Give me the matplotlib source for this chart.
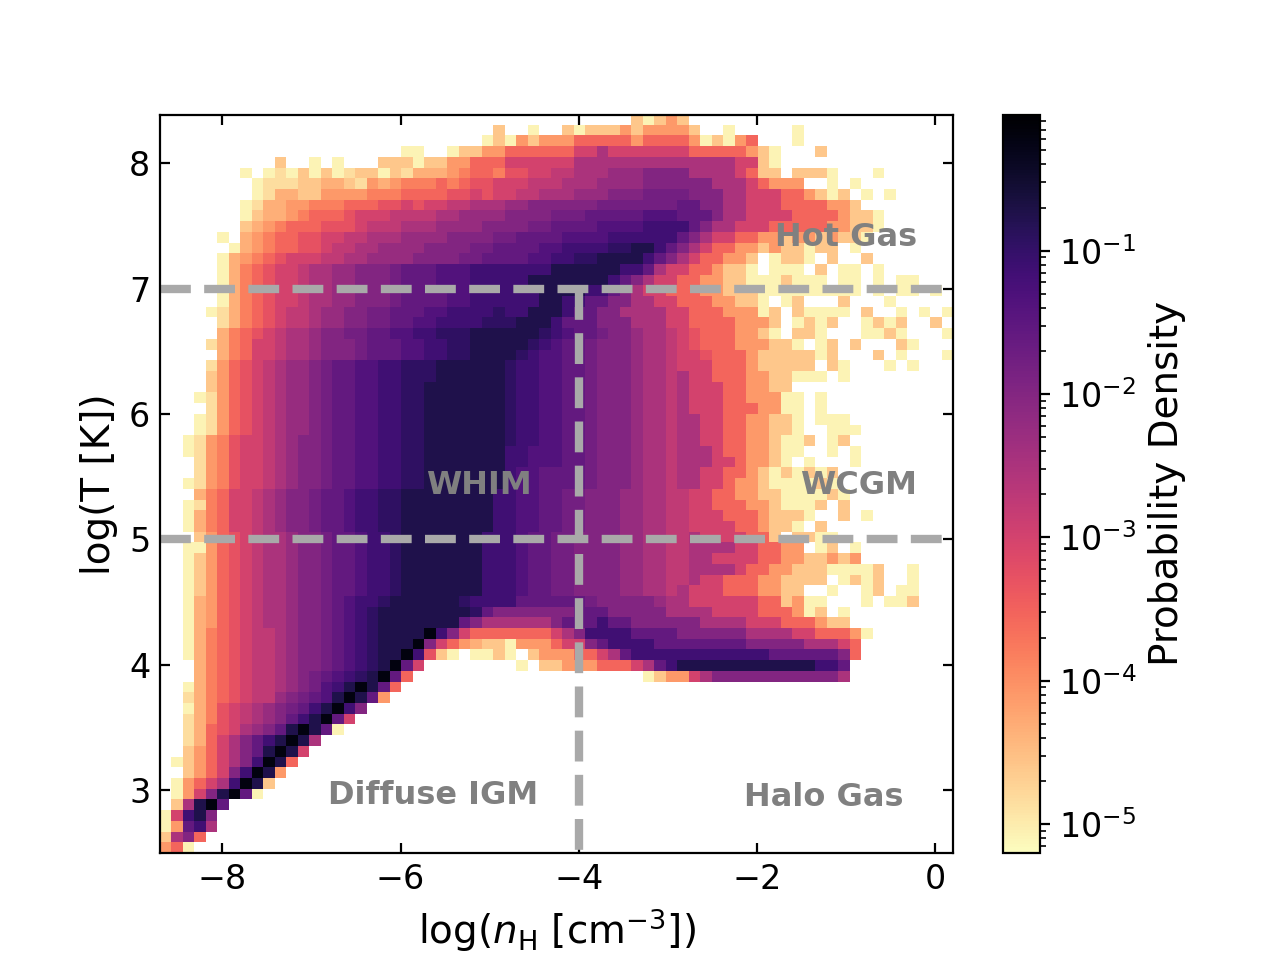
import matplotlib
matplotlib.use('Agg')
import matplotlib.pyplot as plt
from matplotlib.colors import LogNorm
import numpy as np

# axis extent of the 2D histogram (69 x 69 bins)
x_range = [-8.7, 0.2]
y_range = [2.5, 8.385]
n_bins = 69
vmin, vmax = 6.3e-6, 0.885

# density level of each character, log10(probability density); '.' = empty bin
# digits are whole steps, b..j the half steps in between, 'a' the black ridge
LEVEL_LOG10 = {'0': -5.1, 'b': -4.85, '1': -4.6, 'c': -4.35, '2': -4.1,
               'd': -3.83, '3': -3.55, 'e': -3.28, '4': -3.0, 'f': -2.75,
               '5': -2.5, 'g': -2.25, '6': -2.0, 'h': -1.8, '7': -1.6,
               'i': -1.38, '8': -1.15, 'j': -0.95, '9': -0.75, 'a': -0.2}

# bins, top row = highest temperature (columns in groups of 10)
density_rows = [
    ".........." ".........." ".........." ".........." ".10121...." ".........." ".........",
    ".........." ".........." ".........1" "..0..10111" "2122221..0" ".....0...." ".........",
    ".........." ".........." "........01" "0212223333" "3233332010" "23...0...." ".........",
    ".........." ".........." ".00..01122" "3333334454" "4444443333" "3210...1.." ".........",
    ".........." "1..0.0...1" "1101122333" "4444445555" "5555555555" "4410......" ".........",
    ".......0.0" "b01010b110" "1bccc2d33d" "ee44ff555g" "gg66665555" "4311.1110." "..0......",
    "........0b" "bb11cc1b2c" "2ddd3d3ee4" "44fff555gg" "gg66666655" "543222..0." "0........",
    "........0b" "cc112222dd" "d3333ee4e4" "4ff555ggg6" "66hhhh6665" "5444332101" ".0.0.....",
    ".......0bc" "c22ddd333e" "e4e44ff555" "gg666666hh" "hhhhh77665" "5444333322" "1........",
    ".......01c" "c2d333e444" "ffff55gggg" "6666hhh777" "77iii77765" "5444433332" "110......",
    ".......1c2" "d333eee4ff" "f555gggg66" "66hh7777ii" "ii88887655" "4443333322" "110......",
    ".....0.c2d" "33ee44ff55" "5gggg6666h" "h7777iiii8" "8888876544" "3322122121" "10.......",
    "......0c2d" "33ee4ff55g" "ggg6666hh7" "777ii8888j" "j998765433" "221211011." "0........",
    ".....0c2d3" "e444ff55gg" "gg6666hh77" "77ii88jj99" "9987654332" "21.0110.1." ".1.......",
    ".....0cd3e" "44f55gg666" "h777iii888" "8888999999" "8875443321" "10.000.1.0" "0.0......",
    ".....0cd3e" "44f55gg666" "h777iii888" "8899999998" "7654433221" "10001000.0" "0.0.00...",
    ".....0cd3e" "44f55gg666" "h7777ii888" "8889999887" "6544333221" "1100000000" "0.0.00.0.",
    ".....0cd3e" "44f55gg666" "h7777ii888" "8889988776" "6554433322" "110.01...1" "...0.....",
    "....0bcd3e" "4ff5gg66hh" "777ii8888j" "8899987766" "5555443332" "2201.10000" ".1..0.0.0",
    ".....bcd3e" "4ff5gg66hh" "77ii8888jj" "j999877766" "6555443333" "2221.0101." ".0101..1.",
    ".....cd3e4" "f55g66hh77" "ii88jjj999" "999j8i77h6" "6g55f4e333" "2210.110.." ".0010...0",
    "....bcd344" "f55g666h77" "7ii88jj999" "99j8i77h66" "6g55f4e333" "222110.01." "1...10...",
    ".....cd344" "f55g666h77" "7ii88jj999" "9j8ii77h66" "6g55f44e33" "321111101." "..1.0...0",
    "....b23e4f" "5gg6h77ii8" "8jjj999999" "j88ii77h66" "6g55f44433" "3211111.10" "...0.0...",
    "....123e4f" "5gg6h77ii8" "8jjj999999" "j88ii77h66" "6g55f54433" "32211000.0" ".........",
    "....123e4f" "5gg6h77ii8" "8jj9999999" "j88ii77h66" "6g55f54443" "32211....." ".........",
    "...0b23e4f" "5gg6h77ii8" "8jj9999999" "j88ii77h66" "6g55f54443" "322200.0.." ".........",
    "....b23e4f" "5gg6h77ii8" "8jj9999999" "j88ii77h66" "6g55f54443" "332200.0.." ".........",
    "...0b23e4f" "5gg6h77ii8" "8jj9999999" "j88ii77h66" "6g55f55443" "322110.000" ".........",
    "...0b23e4f" "5gg6h77ii8" "8jj9999999" "j88ii77h66" "6g55f55443" "322110..00" "0........",
    "..0b2de44f" "5g66h77ii8" "8jj9999999" "j88ii77h66" "6g55f55443" "3221001.01" ".........",
    "..0b2de44f" "5g66h77ii8" "8jj9999999" "88iii77h66" "6g55f55543" "322100..0." "0........",
    "...b2de44f" "5g66h77ii8" "8jj9999999" "88iii77h66" "6g55f55544" "32210.0..." "0........",
    "...b2de44f" "5g66h77ii8" "8jj9999999" "8ii7777h66" "6g55f55443" "321010101." ".........",
    "..0b2de44f" "5g66h77ii8" "8jj9999999" "8ii7777h66" "6g55f55443" "221000010." ".........",
    "...cd344f5" "g66h77i88j" "j999999998" "8ii77hh666" "gg55ff4433" "2211000010" ".........",
    "..0bd344f5" "g66h77i88j" "j999999998" "8ii77hh666" "gg55ff4433" "32210001.1" ".........",
    "..0cd344f5" "g66h77i88j" "j999999998" "8ii77hh666" "gg55ff4443" "3321110..1" ".0.......",
    "..0cd344f5" "g66h77i88j" "j999999998" "8ii77hh666" "gg55ff4444" "332110.1.." ".........",
    "...123e4f5" "5g66h77i88" "j999999988" "8i77hh6666" "gg55ff5444" "4331.1100." ".........",
    "..0023e4f5" "5g66h77i88" "j999999988" "8i77hh6666" "gg55ff5555" "443322.01." "0........",
    "..0123e4f5" "5g66h77i88" "j999999988" "8i77hh6666" "gg55ff5544" "4433221121" "2........",
    "..0123e4f5" "5g66h77i88" "j999999988" "8i77hh6666" "gg55ff5555" "4332211100" "001..0...",
    "..0123e4f5" "5g66h77i88" "j999999988" "8i77hh6666" "gg55ff5443" "33221111.0" "101..0...",
    "..0123e4f5" "5g66h77i88" "j999999988" "8i77hh6666" "gg55f54443" "332211..0." ".01.00...",
    "..0c23e4f5" "5g66h7i88j" "999999j888" "8777777h66" "666g554444" "44331200.." ".0.001...",
    "..0c23e4f5" "5g66h7i8j9" "9999999j76" "6666667776" "6666555544" "44333201.0" ".........",
    "..0c23e4f5" "5g66h7i8j9" "9999997655" "5555677787" "7666666555" "5444333211" ".........",
    "..0cd3e4ff" "5g66h7i8j9" "999a864333" "3333456888" "8777766666" "6555544333" "20.......",
    "..0cd3e4ff" "5g66h7i8j9" "99a6432c11" "0222344678" "8887777777" "7666665554" "3........",
    "..0cd3e4ff" "5g66h7i8j9" "9a8e10.001" "0.12223345" "7888888888" "8887777776" "3........",
    "...cd3e4ff" "5g66h7i8j9" "a74......." ".0.1122233" "3457899999" "9999999887" ".........",
    "...cd3e4ff" "5g6h7i8j9a" "73........" ".........." "..01224566" "6666666665" ".........",
    "..0cd3e4ff" "5g6hi89a97" "3.........",
    "..bcd3e4ff" "g6h7i9a972",
    "..0cde4f5g" "6h789a86..",
    "..bcde4f5g" "6789a74...",
    "..bc3e45g6" "79a970....",
    "..bc345678" "9a95......",
    "..12345679" "a94.......",
    ".01234568a" "93........",
    "..123468a9" "2.........",
    ".023458a91",
    ".02469a70.",
    ".159a7....",
    "04896.....",
    "02785.....",
    "1563......",
    "230.......",
]

# phase boundaries and region names
t_cuts = [5, 7]
n_cut = -4
region_names = ['WHIM', 'Hot Gas', 'WCGM', 'Diffuse IGM', 'Halo Gas']
region_x = [-5.12, -1.0, -0.86, -5.63, -1.25]
region_y = [5.43, 7.41, 5.43, 2.96, 2.945]

grid = np.full((n_bins, n_bins), np.nan)
for r, row in enumerate(density_rows):
    for c, ch in enumerate(row.ljust(n_bins, '.')[:n_bins]):
        if ch != '.':
            grid[r, c] = 10 ** LEVEL_LOG10[ch]

fig = plt.figure(figsize=(6.4, 4.8), dpi=200)
ax = fig.add_axes([0.125, 0.1115, 0.6195, 0.7688])
cax = fig.add_axes([0.7836, 0.1115, 0.0289, 0.7688])

im = ax.imshow(grid, extent=[x_range[0], x_range[1], y_range[0], y_range[1]],
               origin='upper', aspect='auto', interpolation='nearest',
               cmap='magma_r', norm=LogNorm(vmin=vmin, vmax=vmax))

for t in t_cuts:
    ax.axhline(t, color='darkgray', ls='--', lw=3)
ax.plot([n_cut, n_cut], [t_cuts[1], y_range[0]], color='darkgray', ls='--', lw=3)

for name, x, y in zip(region_names, region_x, region_y):
    ax.text(x, y, name, color='gray', fontsize=11.5, fontweight='bold',
            ha='center', va='center')

ax.set_xlim(x_range)
ax.set_ylim(y_range)
ax.set_xticks([-8, -6, -4, -2, 0])
ax.set_yticks([3, 4, 5, 6, 7, 8])
ax.tick_params(direction='in', top=True, right=True, labelsize=12)
ax.set_xlabel(r'log($n_{\rm H}$ [cm$^{-3}$])', fontsize=14)
ax.set_ylabel('log(T [K])', fontsize=14)

cb = fig.colorbar(im, cax=cax)
cb.set_label('Probability Density', fontsize=14)
cb.ax.tick_params(labelsize=12)

fig.savefig('out.png', dpi=200)
